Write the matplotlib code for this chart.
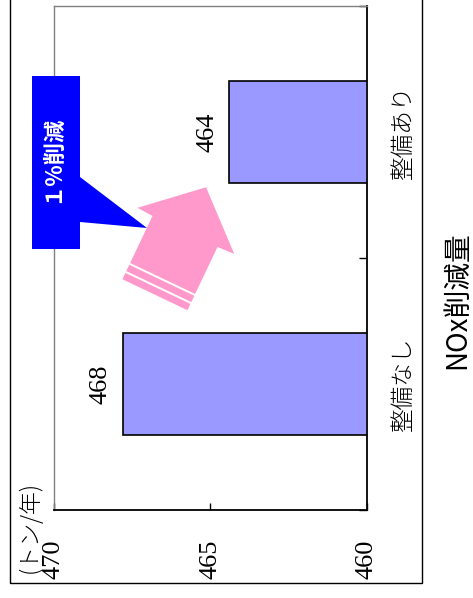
import numpy as np
import matplotlib
matplotlib.use("Agg")
import matplotlib.pyplot as plt
from matplotlib.patches import Polygon, Rectangle
from matplotlib.font_manager import FontProperties

# ---- data ----
categories = ["整備なし", "整備あり"]
values = [467.8, 464.4]
base_value = 460
xticks = [460, 465, 470]
unit_label = "(トン/年)"
title = "NOx削減量"
callout_text = "１%削減"

W, H = 473, 598
fig = plt.figure(figsize=(W / 100, H / 100), dpi=100)

def px(x, y):
    return (x / W, 1 - y / H)

jp = ["Noto Sans CJK JP", "DejaVu Sans"]
serif_fp = FontProperties(family="Liberation Serif", size=19)
cat_fp = FontProperties(family="Noto Sans CJK JP", size=17, weight="light")

# outer frame
fig.patches.append(Rectangle(px(10, 583), 412 / W, 600 / H, transform=fig.transFigure,
                             fill=False, edgecolor="black", linewidth=1.0, zorder=0))

ax = fig.add_axes([54 / W, 1 - 510 / H, 313 / W, 504 / H])
ypos = np.arange(len(categories))
vals = np.array(values)
ax.barh(ypos, vals - base_value, left=base_value, height=0.405,
        color="#9999FF", edgecolor="black", linewidth=1.2, zorder=3)
ax.set_xlim(470, 460)
ax.set_ylim(-0.5, 1.5)

for i, v in enumerate(vals):
    ax.annotate(f"{v:.0f}", xy=(v, i), xytext=(-8, 0), textcoords="offset points",
                rotation=90, ha="right", va="center", fontproperties=serif_fp)

for s in ["left", "top"]:
    ax.spines[s].set_color("#808080")
    ax.spines[s].set_linewidth(1.0)
for s in ["bottom", "right"]:
    ax.spines[s].set_color("black")
    ax.spines[s].set_linewidth(1.3)

ax.set_xticks(xticks)
ax.set_xticklabels([str(t) for t in xticks], rotation=90, fontproperties=serif_fp)
ax.tick_params(axis="x", direction="in", length=5, width=1, pad=21)

ax.yaxis.tick_right()
ax.set_yticks(ypos)
ax.set_yticklabels(categories, rotation=90, va="center", fontproperties=cat_fp)
ax.tick_params(axis="y", which="major", length=0, pad=17)
ax.set_yticks([-0.5, 0.5, 1.5], minor=True)
ax.tick_params(axis="y", which="minor", direction="in", length=6, width=1, right=True, left=False)

fig.text(*px(30, 527), unit_label, rotation=90, ha="center", va="center",
         fontproperties=FontProperties(family="Noto Sans CJK JP", size=16.5, weight="light"))
fig.text(*px(457, 300), title, rotation=90, ha="center", va="center",
         family=jp, fontsize=20)

# blue callout
callout = [(32, 76), (80, 76), (80, 177), (147, 228), (80, 222), (80, 249), (32, 249)]
fig.patches.append(Polygon([px(*p) for p in callout], closed=True, transform=fig.transFigure,
                           facecolor="#0000FF", edgecolor="none", zorder=5))
fig.text(*px(52, 159), callout_text, rotation=90, ha="center", va="center", color="white",
         family=jp, fontsize=16, fontweight="bold", zorder=6)

# pink block arrow
C = np.array([185.0, 231.5])
fwd = np.array([0.43, -0.903])
nrm = np.array([0.903, 0.43])
def loc(u, v):
    p = C + u * fwd + v * nrm
    return px(p[0], p[1])

arrow = [(49, 0), (1, 54), (0, 36), (-52, 36), (-52, -36), (0, -36), (1, -53)]
fig.patches.append(Polygon([loc(*p) for p in arrow], closed=True, transform=fig.transFigure,
                           facecolor="#FF99CC", edgecolor="none", zorder=5))
for u0, u1 in [(-54, -61), (-63, -70)]:
    band = [(u0, 36), (u1, 36), (u1, -36), (u0, -36)]
    fig.patches.append(Polygon([loc(*p) for p in band], closed=True, transform=fig.transFigure,
                               facecolor="#FF99CC", edgecolor="none", zorder=5))

fig.savefig("out.png", dpi=100)
